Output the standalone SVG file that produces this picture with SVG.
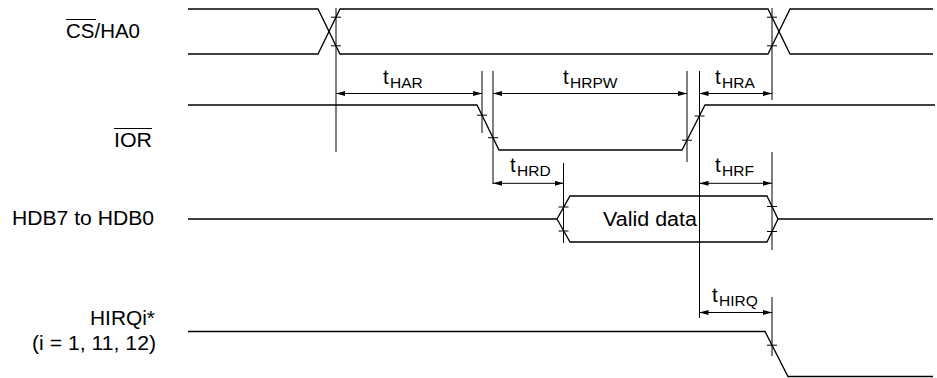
<svg xmlns="http://www.w3.org/2000/svg" width="937" height="378" viewBox="0 0 937 378">
<style>
  .sig { fill: none; stroke: #000; stroke-width: 1.3; stroke-linejoin: miter; }
  .ref { fill: none; stroke: #000; stroke-width: 1; }
  .tick { fill: none; stroke: #000; stroke-width: 1; }
  .dim { fill: none; stroke: #000; stroke-width: 1; marker-start: url(#arr); marker-end: url(#arr); }
  .lbl { font-family: "Liberation Sans", Arial, Helvetica, sans-serif; font-size: 19.5px; fill: #000; }
  .tm { font-family: "Liberation Sans", Arial, Helvetica, sans-serif; fill: #000; }
  .t { font-size: 20.5px; }
  .sub { font-size: 15.5px; }
</style>
<defs>
  <marker id="arr" viewBox="0 0 9 5" refX="9" refY="2.5" markerWidth="9" markerHeight="5" markerUnits="userSpaceOnUse" orient="auto-start-reverse">
    <path d="M0,0 L9,2.5 L0,5 z" fill="#000"/>
  </marker>
</defs>
<rect x="0" y="0" width="937" height="378" fill="#fff"/>

<g id="sig-cs">
  <text class="lbl" x="66" y="38" textLength="74" lengthAdjust="spacingAndGlyphs">CS/HA0</text>
  <line class="tick" x1="66" y1="19.5" x2="96" y2="19.5"/>
  <path class="sig" d="M188,9 H318 L340,54 H768 L790,9 H933"/>
  <path class="sig" d="M188,54 H318 L340,9 H768 L790,54 H933"/>
</g>

<g id="sig-ior">
  <text class="lbl" x="114" y="147" textLength="38" lengthAdjust="spacingAndGlyphs">IOR</text>
  <line class="tick" x1="114" y1="128.5" x2="152" y2="128.5"/>
  <path class="sig" d="M188,105 H477 L499,150 H682 L705,105 H935"/>
</g>

<g id="sig-hdb">
  <text class="lbl" x="12" y="225" textLength="142" lengthAdjust="spacingAndGlyphs">HDB7 to HDB0</text>
  <path class="sig" d="M188,219 H557 L570,196 H767 L778,219 H933"/>
  <path class="sig" d="M557,219 L570,242 H767 L778,219"/>
  <text class="lbl" x="603" y="226" textLength="94" lengthAdjust="spacingAndGlyphs">Valid data</text>
</g>

<g id="sig-hirq">
  <text class="lbl" x="90" y="325" textLength="65" lengthAdjust="spacingAndGlyphs">HIRQi*</text>
  <text class="lbl" x="32" y="349.5" textLength="124" lengthAdjust="spacingAndGlyphs">(i = 1, 11, 12)</text>
  <path class="sig" d="M188,331.5 H765 L788,376.5 H933"/>
</g>

<g id="connectors">
  <line class="ref" x1="336" y1="8" x2="336" y2="152"/>
  <line class="ref" x1="482" y1="71" x2="482" y2="133"/>
  <line class="ref" x1="493" y1="71" x2="493" y2="184"/>
  <line class="ref" x1="687" y1="71" x2="687" y2="162"/>
  <line class="ref" x1="699.5" y1="71" x2="699.5" y2="318"/>
  <line class="ref" x1="772" y1="8" x2="772" y2="100"/>
  <line class="ref" x1="772" y1="152" x2="772" y2="250"/>
  <line class="ref" x1="563.5" y1="163" x2="563.5" y2="243"/>
  <line class="ref" x1="772" y1="297" x2="772" y2="356"/>
  <line class="tick" x1="331" y1="17.2" x2="341" y2="17.2"/>
  <line class="tick" x1="331" y1="45.8" x2="341" y2="45.8"/>
  <line class="tick" x1="767" y1="17.2" x2="777" y2="17.2"/>
  <line class="tick" x1="767" y1="45.8" x2="777" y2="45.8"/>
  <line class="tick" x1="477" y1="115.2" x2="487" y2="115.2"/>
  <line class="tick" x1="488" y1="137.7" x2="498" y2="137.7"/>
  <line class="tick" x1="682" y1="140.2" x2="692" y2="140.2"/>
  <line class="tick" x1="694.5" y1="116" x2="704.5" y2="116"/>
  <line class="tick" x1="558.5" y1="207" x2="568.5" y2="207"/>
  <line class="tick" x1="558.5" y1="231" x2="568.5" y2="231"/>
  <line class="tick" x1="767" y1="206.5" x2="777" y2="206.5"/>
  <line class="tick" x1="767" y1="231.5" x2="777" y2="231.5"/>
  <line class="tick" x1="767" y1="345.2" x2="777" y2="345.2"/>
  <line class="dim" x1="336" y1="93.5" x2="482" y2="93.5"/>
  <line class="dim" x1="493" y1="93.5" x2="687" y2="93.5"/>
  <line class="dim" x1="699.5" y1="93.5" x2="772" y2="93.5"/>
  <line class="dim" x1="493" y1="183.3" x2="563.5" y2="183.3"/>
  <line class="dim" x1="699.5" y1="183.3" x2="772" y2="183.3"/>
  <line class="dim" x1="699.5" y1="312.5" x2="772" y2="312.5"/>
</g>

<g id="timing-labels">
  <text class="tm"><tspan class="t" x="383" y="84">t</tspan><tspan class="sub" x="390" y="87.5">HAR</tspan></text>
  <text class="tm"><tspan class="t" x="563" y="84">t</tspan><tspan class="sub" x="570" y="87.5">HRPW</tspan></text>
  <text class="tm"><tspan class="t" x="715" y="84">t</tspan><tspan class="sub" x="722" y="87.5">HRA</tspan></text>
  <text class="tm"><tspan class="t" x="510" y="172">t</tspan><tspan class="sub" x="517" y="175.5">HRD</tspan></text>
  <text class="tm"><tspan class="t" x="715" y="172">t</tspan><tspan class="sub" x="722" y="175.5">HRF</tspan></text>
  <text class="tm"><tspan class="t" x="712" y="302">t</tspan><tspan class="sub" x="719" y="305.5">HIRQ</tspan></text>
</g>
</svg>
